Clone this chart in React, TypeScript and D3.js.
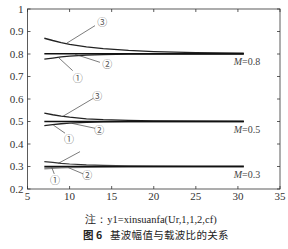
import React from "react";
import * as d3 from "d3";

const xs = [7, 8, 9, 10, 12, 14, 17, 20, 25, 30.7];
const m08_3 = [0.870, 0.860, 0.851, 0.843, 0.832, 0.824, 0.816, 0.811, 0.806, 0.804];
const m08_2 = [0.801, 0.801, 0.801, 0.801, 0.801, 0.801, 0.801, 0.801, 0.801, 0.801];
const m08_1 = [0.777, 0.782, 0.787, 0.791, 0.795, 0.797, 0.799, 0.800, 0.800, 0.800];
const m05_3 = [0.537, 0.530, 0.524, 0.519, 0.512, 0.508, 0.505, 0.503, 0.502, 0.501];
const m05_2 = [0.500, 0.500, 0.500, 0.500, 0.500, 0.500, 0.500, 0.500, 0.500, 0.500];
const m05_1 = [0.482, 0.486, 0.490, 0.493, 0.496, 0.498, 0.499, 0.500, 0.500, 0.500];
const m03_3 = [0.322, 0.318, 0.314, 0.311, 0.307, 0.305, 0.303, 0.302, 0.301, 0.301];
const m03_2 = [0.300, 0.300, 0.300, 0.300, 0.300, 0.300, 0.300, 0.300, 0.300, 0.300];
const m03_1 = [0.292, 0.294, 0.296, 0.297, 0.298, 0.299, 0.300, 0.300, 0.300, 0.300];

const xTicks = [5, 10, 15, 20, 25, 30, 35];
const yTicks = [0.2, 0.3, 0.4, 0.5, 0.6, 0.7, 0.8, 0.9, 1];
const yTickLabels = ["0.2", "0.3", "0.4", "0.5", "0.6", "0.7", "0.8", "0.9", "1"];

// annotation leader lines: [x1, y1, x2, y2] in data units
const annLines = [
  [9.66, 0.848, 13.02, 0.926],
  [10.64, 0.799, 13.61, 0.763],
  [8.66, 0.785, 10.37, 0.726],
  [9.25, 0.524, 12.82, 0.603],
  [10.25, 0.492, 13.02, 0.470],
  [8.07, 0.484, 9.46, 0.448],
  [8.66, 0.314, 11.24, 0.366],
  [9.85, 0.295, 11.63, 0.267],
  [7.88, 0.296, 8.18, 0.267],
];
const annLabels = [
  { x: 13.89, y: 0.939, t: "③" },
  { x: 14.48, y: 0.754, t: "②" },
  { x: 10.96, y: 0.692, t: "①" },
  { x: 13.29, y: 0.613, t: "③" },
  { x: 13.53, y: 0.459, t: "②" },
  { x: 9.93, y: 0.418, t: "①" },
  { x: 12.10, y: 0.258, t: "②" },
  { x: 8.27, y: 0.240, t: "①" },
];
const mLabels = [
  { x: 29.5, y: 0.751, v: "0.8" },
  { x: 29.5, y: 0.449, v: "0.5" },
  { x: 29.5, y: 0.251, v: "0.3" },
];
const caption1 = "注：y1=xinsuanfa(Ur,1,1,2,cf)";
const caption2a = "图 6";
const caption2b = "基波幅值与载波比的关系";

export default function App() {
  const W = 288, H = 249;
  const x = d3.scaleLinear().domain([5, 35]).range([27.5, 280]);
  const y = d3.scaleLinear().domain([0.2, 1]).range([189, 9]);
  const line = d3.line<number>().x((_, i) => x(xs[i])).y((d) => y(d));
  const series = [
    { d: m08_3, c: "#222", w: 1.3 },
    { d: m08_1, c: "#222", w: 1.3 },
    { d: m08_2, c: "#111", w: 1.6 },
    { d: m05_3, c: "#222", w: 1.3 },
    { d: m05_1, c: "#222", w: 1.3 },
    { d: m05_2, c: "#111", w: 1.6 },
    { d: m03_3, c: "#333", w: 1.2 },
    { d: m03_1, c: "#888", w: 2.2 },
    { d: m03_2, c: "#111", w: 1.5 },
  ];
  const font = "'Liberation Serif', 'Times New Roman', serif";
  const [x0, x1] = x.range();
  const [y0, y1] = y.range();
  return (
    <svg width={W} height={H} style={{ position: "absolute", left: 0, top: 0, background: "#fff" }}>
      <rect x={0} y={0} width={W} height={H} fill="#fff" />
      {series.map((s, i) => (
        <path key={i} d={line(s.d) || ""} fill="none" stroke={s.c} strokeWidth={s.w} />
      ))}
      <rect x={x0} y={y1} width={x1 - x0} height={y0 - y1} fill="none" stroke="#333" strokeWidth={0.8} />
      {xTicks.map((t) => (
        <g key={"x" + t}>
          <line x1={x(t)} x2={x(t)} y1={y0} y2={y0 - 3} stroke="#333" strokeWidth={0.8} />
          <line x1={x(t)} x2={x(t)} y1={y1} y2={y1 + 3} stroke="#333" strokeWidth={0.8} />
          <text x={x(t)} y={y0 + 11} textAnchor="middle" fontFamily={font} fontSize={11} fill="#333">{t}</text>
        </g>
      ))}
      {yTicks.map((t, i) => (
        <g key={"y" + t}>
          <line x1={x0} x2={x0 + 3} y1={y(t)} y2={y(t)} stroke="#333" strokeWidth={0.8} />
          <line x1={x1} x2={x1 - 3} y1={y(t)} y2={y(t)} stroke="#333" strokeWidth={0.8} />
          <text x={x0 - 4} y={y(t) + 3.5} textAnchor="end" fontFamily={font} fontSize={11} fill="#333">{yTickLabels[i]}</text>
        </g>
      ))}
      {annLines.map((a, i) => (
        <line key={"a" + i} x1={x(a[0])} y1={y(a[1])} x2={x(a[2])} y2={y(a[3])} stroke="#444" strokeWidth={0.7} />
      ))}
      {annLabels.map((a, i) => (
        <text key={"l" + i} x={x(a.x)} y={y(a.y) + 3.5} textAnchor="middle" fontFamily="'Noto Sans CJK SC', 'DejaVu Sans', sans-serif" fontSize={10} fill="#555">{a.t}</text>
      ))}
      {mLabels.map((m, i) => (
        <text key={"m" + i} x={x(m.x)} y={y(m.y)} fontFamily={font} fontSize={10} fill="#444">
          <tspan fontStyle="italic">M</tspan>=<tspan>{m.v}</tspan>
        </text>
      ))}
      <text x={151} y={223} textAnchor="middle" fontFamily={font} fontSize={10.5} fill="#222">{caption1}</text>
      <text x={83} y={239} fontFamily="'Noto Sans CJK SC', sans-serif" fontSize={10.5} fontWeight="bold" fill="#222">{caption2a}</text>
      <text x={110} y={239} fontFamily="'Noto Sans CJK SC', sans-serif" fontSize={10.5} fill="#222" letterSpacing={0.3}>{caption2b}</text>
    </svg>
  );
}
